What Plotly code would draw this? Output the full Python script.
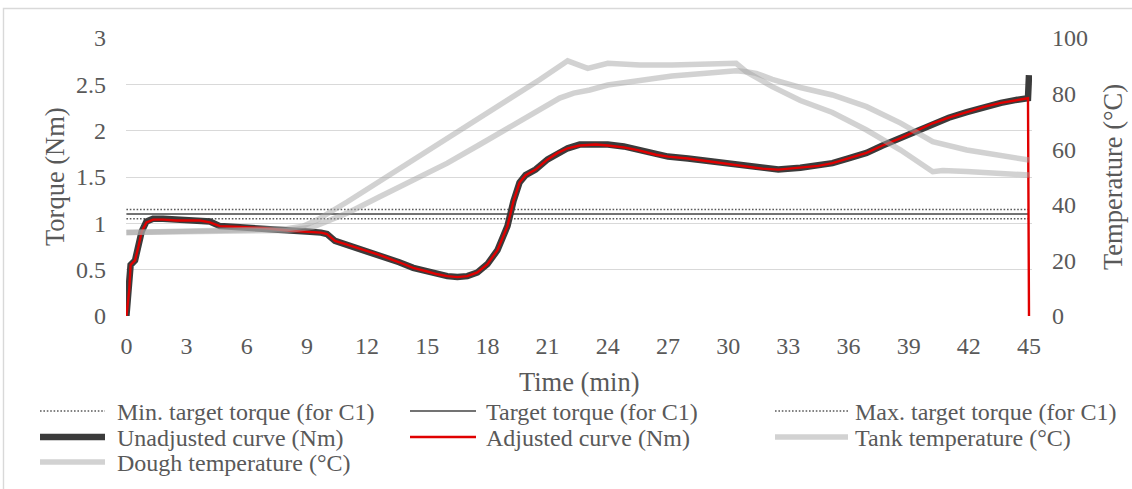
import plotly.graph_objects as go

# ---------------- data ----------------
time_min = [0, 0.14, 0.21, 0.43, 0.6, 0.76, 1.0, 1.33, 1.83, 2.5, 3.16, 3.66, 4.16,
            4.66, 5.66, 6.8, 8.16, 9.16, 9.7, 10.0, 10.4, 11, 12, 12.6, 13.6, 14.3,
            15, 15.5, 16, 16.5, 17, 17.5, 18, 18.5, 19, 19.3, 19.6, 19.9, 20.4, 21,
            21.5, 22, 22.6, 23.4, 24, 24.8, 25.5, 26.4, 27, 28, 29, 30, 31, 31.7,
            32.5, 33.6, 34.5, 35.2, 36, 36.9, 37.7, 38.6, 39.4, 40.2, 41, 41.9, 42.8,
            43.6, 44.3, 44.95, 45]
unadjusted_torque = [0, 0.28, 0.55, 0.6, 0.75, 0.91, 1.02, 1.05, 1.05, 1.04, 1.04,
                     1.04, 1.02, 0.97, 0.96, 0.95, 0.92, 0.91, 0.9, 0.885, 0.81, 0.77,
                     0.7, 0.66, 0.58, 0.52, 0.48, 0.45, 0.43, 0.42, 0.43, 0.47, 0.56,
                     0.71, 0.97, 1.24, 1.44, 1.52, 1.58, 1.69, 1.76, 1.81, 1.85, 1.86,
                     1.85, 1.83, 1.79, 1.74, 1.72, 1.7, 1.67, 1.64, 1.61, 1.59, 1.58,
                     1.6, 1.62, 1.65, 1.7, 1.76, 1.84, 1.92, 2.0, 2.08, 2.14, 2.2, 2.26,
                     2.3, 2.33, 2.35, 2.6]
adjusted_torque = [0, 0.28, 0.55, 0.6, 0.75, 0.91, 1.01, 1.04, 1.04, 1.03, 1.03,
                   1.03, 1.01, 0.97, 0.96, 0.95, 0.92, 0.91, 0.9, 0.885, 0.81, 0.77,
                   0.7, 0.66, 0.58, 0.52, 0.48, 0.45, 0.43, 0.42, 0.43, 0.47, 0.56,
                   0.71, 0.97, 1.24, 1.44, 1.52, 1.58, 1.69, 1.76, 1.81, 1.84, 1.85,
                   1.84, 1.82, 1.79, 1.74, 1.72, 1.7, 1.67, 1.64, 1.61, 1.59, 1.58,
                   1.6, 1.62, 1.65, 1.7, 1.76, 1.84, 1.92, 2.0, 2.08, 2.14, 2.2, 2.26,
                   2.3, 2.33, 2.35, 0]

tank_time = [0, 3, 6, 8, 8.8, 9.5, 11, 12.6, 14.3, 16, 17.6, 19.3, 20.6, 22.0, 23.0,
             24.0, 25.6, 27.2, 28.9, 30.4, 30.9, 31.5, 32.2, 33.6, 35.2, 36.9, 38.6,
             40.2, 40.7, 41.9, 43.6, 45]
tank_temp = [30, 30.4, 30.9, 31.4, 32.3, 34.5, 41, 48.3, 56, 63.8, 71.2, 78.9, 85,
             91.8, 89.1, 90.9, 90.3, 90.3, 90.5, 90.9, 87.9, 85.2, 82.5, 77.5, 73.2,
             66.9, 59.7, 51.9, 52.3, 52.0, 51.4, 50.7]
dough_time = [0, 3, 6, 8, 9.3, 11, 12.6, 14.3, 16, 17.6, 19.3, 20.6, 21.6, 22.3, 23.1,
              24.0, 25.6, 27.2, 28.9, 30.4, 30.9, 31.4, 32.2, 33.6, 35.2, 36.9, 38.6,
              40.2, 41.9, 43.6, 45]
dough_temp = [30, 30.3, 30.5, 30.8, 32, 37, 42.8, 48.9, 55, 61.6, 68.5, 74, 78.4, 80.2,
              81.3, 83.1, 84.9, 86.3, 87.3, 88.2, 87.9, 87.3, 85.1, 82.2, 79.5, 75.3,
              69.4, 62.7, 59.7, 57.9, 56.1]

min_target_torque = 1.05
target_torque = 1.10
max_target_torque = 1.15

x_tick_vals = [0, 3, 6, 9, 12, 15, 18, 21, 24, 27, 30, 33, 36, 39, 42, 45]
x_tick_text = ["0", "3", "6", "9", "12", "15", "18", "21", "24", "27", "30", "33",
               "36", "39", "42", "45"]
torque_tick_vals = [0, 0.5, 1, 1.5, 2, 2.5, 3]
torque_tick_text = ["0", "0.5", "1", "1.5", "2", "2.5", "3"]
temp_tick_vals = [0, 20, 40, 60, 80, 100]
temp_tick_text = ["0", "20", "40", "60", "80", "100"]

series_names = ["Min. target torque (for C1)", "Target torque (for C1)",
                "Max. target torque (for C1)", "Unadjusted curve (Nm)",
                "Adjusted curve (Nm)", "Tank temperature (°C)", "Dough temperature (°C)"]

# ---------------- styles ----------------
FONT = "Liberation Serif, Times New Roman, serif"
TXT = "#595959"
GRID = "#d9d9d9"
DOT_COLOR = "#5a5a5a"
TARGET_COLOR = "#737373"
BLACK = "#3b3b3b"
RED = "#e00000"
GRAY_T = "rgba(165,165,165,0.5)"

W, H = 1132, 489
L, R, T, B = 126, 100, 38, 173
PW, PH = W - L - R, H - T - B


def px(x):
    return (x - L) / PW


def py(y):
    return (H - B - y) / PH


fig = go.Figure()

n = len(time_min)
dot_dash = "1.6px,1.8px"
fig.add_trace(go.Scatter(x=time_min, y=[min_target_torque] * n, mode="lines",
                         name=series_names[0],
                         line=dict(color=DOT_COLOR, width=1.6, dash=dot_dash)))
fig.add_trace(go.Scatter(x=time_min, y=[target_torque] * n, mode="lines",
                         name=series_names[1],
                         line=dict(color=TARGET_COLOR, width=2)))
fig.add_trace(go.Scatter(x=time_min, y=[max_target_torque] * n, mode="lines",
                         name=series_names[2],
                         line=dict(color=DOT_COLOR, width=1.6, dash=dot_dash)))
fig.add_trace(go.Scatter(x=time_min, y=unadjusted_torque, mode="lines",
                         name=series_names[3],
                         line=dict(color=BLACK, width=6.5)))
fig.add_trace(go.Scatter(x=time_min, y=adjusted_torque, mode="lines",
                         name=series_names[4],
                         line=dict(color=RED, width=2.4)))
fig.add_trace(go.Scatter(x=tank_time, y=tank_temp, mode="lines", yaxis="y2",
                         name=series_names[5],
                         line=dict(color=GRAY_T, width=5.5)))
fig.add_trace(go.Scatter(x=dough_time, y=dough_temp, mode="lines", yaxis="y2",
                         name=series_names[6],
                         line=dict(color=GRAY_T, width=5.5)))

tickfont = dict(family=FONT, size=24, color=TXT)

fig.update_layout(
    width=W, height=H,
    margin=dict(l=L, r=R, t=T, b=B, autoexpand=False),
    paper_bgcolor="white", plot_bgcolor="white",
    showlegend=False,
    font=dict(family=FONT, color=TXT),
    xaxis=dict(range=[-0.02, 45.15], tickvals=x_tick_vals, ticktext=x_tick_text,
               showgrid=False, zeroline=False, showline=False, ticks="",
               tickfont=tickfont, ticklabelstandoff=13),
    yaxis=dict(range=[0, 3], tickvals=torque_tick_vals, ticktext=torque_tick_text,
               showgrid=True, gridcolor=GRID, gridwidth=1.4, zeroline=False,
               showline=False, ticks="", tickfont=tickfont, ticklabelstandoff=19),
    yaxis2=dict(range=[0, 100], tickvals=temp_tick_vals, ticktext=temp_tick_text,
                overlaying="y", side="right", showgrid=False, zeroline=False,
                showline=False, ticks="", tickfont=tickfont, ticklabelstandoff=19),
)

shapes = []
annotations = []

# outer chart border
shapes.append(dict(type="rect", xref="paper", yref="paper",
                   x0=px(3.5), x1=px(1145), y0=py(8.5), y1=py(505),
                   line=dict(color=GRID, width=1.4), fillcolor="rgba(0,0,0,0)",
                   layer="below"))

# axis titles
title_font = dict(family=FONT, size=26.5, color=TXT)
annotations.append(dict(text="Torque (Nm)", xref="paper", yref="paper",
                        x=px(55), y=0.5, textangle=-90, showarrow=False,
                        xanchor="center", yanchor="middle", font=title_font))
annotations.append(dict(text="Temperature (°C)", xref="paper", yref="paper",
                        x=px(1113), y=0.5, textangle=-90, showarrow=False,
                        xanchor="center", yanchor="middle", font=title_font))
annotations.append(dict(text="Time (min)", xref="paper", yref="paper",
                        x=0.5, y=py(382), showarrow=False,
                        xanchor="center", yanchor="middle", font=title_font))

# manual legend (3 columns, Excel style)
col_line = [(40, 105), (410, 476), (775, 848)]
col_text = [115, 484, 853]
row_y = [411, 437, 462]
legend_styles = [
    dict(color=DOT_COLOR, width=1.6, dash=dot_dash),
    dict(color=TARGET_COLOR, width=2),
    dict(color=DOT_COLOR, width=1.6, dash=dot_dash),
    dict(color=BLACK, width=6.5),
    dict(color=RED, width=2.4),
    dict(color="#d2d2d2", width=5.5),
    dict(color="#d2d2d2", width=5.5),
]
legend_font = dict(family=FONT, size=24, color=TXT)
for i, name in enumerate(series_names):
    r, c = divmod(i, 3)
    x0, x1 = col_line[c]
    shapes.append(dict(type="line", xref="paper", yref="paper",
                       x0=px(x0), x1=px(x1), y0=py(row_y[r]), y1=py(row_y[r]),
                       line=legend_styles[i]))
    annotations.append(dict(text=name, xref="paper", yref="paper",
                            x=px(col_text[c]), y=py(row_y[r] + 1), showarrow=False,
                            xanchor="left", yanchor="middle", font=legend_font))

fig.update_layout(shapes=shapes, annotations=annotations)

fig.write_html("out.html")
